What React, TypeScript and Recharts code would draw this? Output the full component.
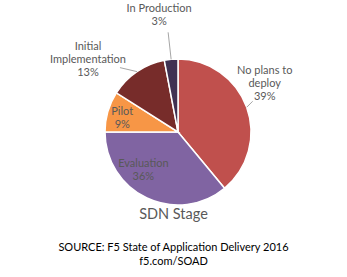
import { PieChart, Pie, Cell } from "recharts";

const stages = ["No plans to deploy", "Evaluation", "Pilot", "Initial Implementation", "In Production"];
const shares = [39, 36, 9, 13, 3];
const colors = ["#C0504D", "#8064A2", "#F79646", "#772C2A", "#403152"];

const data = stages.map((name, i) => ({ name, value: shares[i] }));

const RAD = Math.PI / 180;
const FONT = "Lato, 'Open Sans', sans-serif";

// label text per slice, split the way the original wraps it
const labelLines: Record<string, string[]> = {
  "No plans to deploy": ["No plans to", "deploy"],
  Evaluation: ["Evaluation"],
  Pilot: ["Pilot"],
  "Initial Implementation": ["Initial", "Implementation"],
  "In Production": ["In Production"],
};

function renderLabel(props: any) {
  const { cx, cy, midAngle, outerRadius, name, value } = props;
  const lines = [...labelLines[name], `${value}%`];
  const cos = Math.cos(-midAngle * RAD);
  const sin = Math.sin(-midAngle * RAD);
  const ex = cx + outerRadius * cos;
  const ey = cy + outerRadius * sin;
  const lh = 13;
  const color = "#595959";

  if (name === "Pilot" || name === "Evaluation") {
    // inside labels, nudged off the mid angle like Excel's best fit
    const shift = name === "Evaluation" ? -16 : 4.5;
    const r = outerRadius * (name === "Evaluation" ? 0.72 : 0.78);
    const x = cx + r * Math.cos(-(midAngle + shift) * RAD);
    const y = cy + r * Math.sin(-(midAngle + shift) * RAD);
    return (
      <text x={x} y={y - 5} textAnchor="middle" fill={color} fontSize={11} fontFamily={FONT}>
        {lines.map((l, i) => (
          <tspan key={i} x={x} dy={i === 0 ? 0 : lh}>{l}</tspan>
        ))}
      </text>
    );
  }

  let lx = 0, ly = 0, tx = 0, ty = 0;
  if (name === "No plans to deploy") {
    lx = ex + 6; ly = ey - 6; tx = lx + 12; ty = ly - 27;
  } else if (name === "Initial Implementation") {
    lx = ex - 17; ly = ey - 4; tx = lx - 32; ty = ly - 18;
  } else {
    lx = ex - 3; ly = ey - 27; tx = lx - 9; ty = ly - 20;
  }
  return (
    <g>
      <polyline points={`${ex},${ey} ${lx},${ly}`} stroke="#A6A6A6" strokeWidth={1} fill="none" />
      <text x={tx} y={ty} textAnchor="middle" fill={color} fontSize={11} fontFamily={FONT}>
        {lines.map((l, i) => (
          <tspan key={i} x={tx} dy={i === 0 ? 0 : lh}>{l}</tspan>
        ))}
      </text>
    </g>
  );
}

export default function App() {
  return (
    <div style={{ position: "absolute", left: 0, top: 0, width: 347, height: 277, background: "#fff", fontFamily: FONT }}>
      <PieChart width={347} height={277}>
        <Pie
          data={data}
          dataKey="value"
          nameKey="name"
          cx={173}
          cy={127}
          outerRadius={73}
          startAngle={90}
          endAngle={-270}
          stroke="#fff"
          strokeWidth={1.5}
          label={renderLabel}
          labelLine={false}
          isAnimationActive={false}
        >
          {data.map((d, i) => (
            <Cell key={d.name} fill={colors[i]} />
          ))}
        </Pie>
      </PieChart>
      <div style={{ position: "absolute", left: 0, width: 347, top: 205, textAlign: "center", fontSize: 14.5, color: "#595959" }}>
        SDN Stage
      </div>
      <div style={{ position: "absolute", left: 0, width: 347, top: 240, textAlign: "center", fontSize: 11, color: "#000", lineHeight: "14px" }}>
        SOURCE: F5 State of Application Delivery 2016
        <br />
        f5.com/SOAD
      </div>
    </div>
  );
}
